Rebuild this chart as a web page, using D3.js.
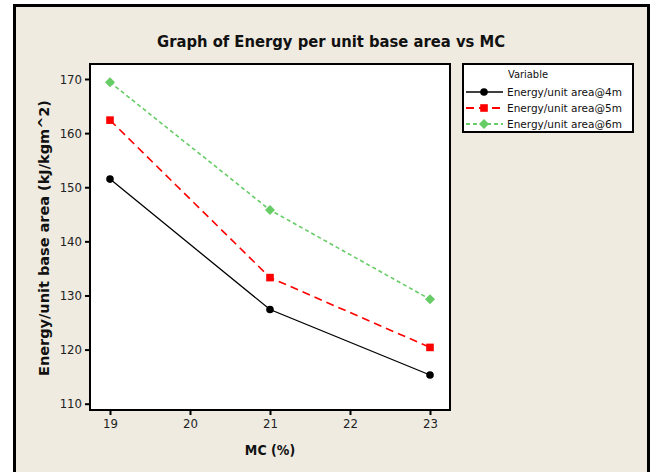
<!DOCTYPE html>
<html>
<head>
<meta charset="utf-8">
<script src="https://cdn.jsdelivr.net/npm/d3@7"></script>
<style>
  html, body { margin: 0; padding: 0; background: #ffffff; }
  svg { display: block; }
  text { font-family: "DejaVu Sans Condensed", "DejaVu Sans", Verdana, sans-serif; }
</style>
</head>
<body>
<svg id="chart" width="652" height="472"></svg>
<script>
// Moisture content (%) on the x axis
const mc = [19, 21, 23];
// Energy per unit base area (kJ/kgm^2) at each pile height
const energy4m = [151.5, 127.4, 115.3];
const energy5m = [162.4, 133.3, 120.4];
const energy6m = [169.4, 145.8, 129.3];
const seriesNames = ["Energy/unit area@4m", "Energy/unit area@5m", "Energy/unit area@6m"];
const xTicks = [19, 20, 21, 22, 23];
const yTicks = [110, 120, 130, 140, 150, 160, 170];

const series = [
  { name: seriesNames[0], values: energy4m, color: "#000000", dash: null, width: 1.3, marker: "circle" },
  { name: seriesNames[1], values: energy5m, color: "#ff0000", dash: "8,5", width: 1.6, marker: "square" },
  { name: seriesNames[2], values: energy6m, color: "#66cc66", dash: "4,3", width: 1.6, marker: "diamond" }
];

const svg = d3.select("#chart");

// Page background and outer frame
svg.append("rect").attr("x", 0).attr("y", 0).attr("width", 652).attr("height", 472).attr("fill", "#ffffff");
svg.append("rect").attr("x", 14.5).attr("y", 5.5).attr("width", 634).attr("height", 480)
  .attr("fill", "#efebe1").attr("stroke", "#000").attr("stroke-width", 3);

// Plot area
const plot = { left: 90, top: 64, right: 450, bottom: 410 };
const x = d3.scaleLinear().domain([18.75, 23.25]).range([plot.left, plot.right]);
const y = d3.scaleLinear().domain([170, 110]).range([79, 403.7]);

svg.append("rect")
  .attr("x", plot.left).attr("y", plot.top)
  .attr("width", plot.right - plot.left).attr("height", plot.bottom - plot.top)
  .attr("fill", "#ffffff").attr("stroke", "#000").attr("stroke-width", 2);

// Axes
const yAxis = d3.axisLeft(y).tickValues(yTicks).tickSize(4).tickPadding(3).tickFormat(d3.format("d"));
const gy = svg.append("g").attr("transform", `translate(${plot.left - 1},0)`).call(yAxis);
gy.select(".domain").remove();
gy.selectAll("line").attr("stroke", "#000").attr("stroke-width", 2);
gy.selectAll("text").attr("font-size", 13).attr("fill", "#222");

const xAxis = d3.axisBottom(x).tickValues(xTicks).tickSize(4).tickPadding(4).tickFormat(d3.format("d"));
const gx = svg.append("g").attr("transform", `translate(0,${plot.bottom + 1})`).call(xAxis);
gx.select(".domain").remove();
gx.selectAll("line").attr("stroke", "#000").attr("stroke-width", 2);
gx.selectAll("text").attr("font-size", 13).attr("fill", "#222");

// Titles
svg.append("text").attr("x", 331).attr("y", 47).attr("text-anchor", "middle")
  .attr("font-size", 16).attr("font-weight", "bold").attr("fill", "#111")
  .attr("textLength", 348).attr("lengthAdjust", "spacingAndGlyphs")
  .text("Graph of Energy per unit base area vs MC");

svg.append("text").attr("x", 270).attr("y", 455).attr("text-anchor", "middle")
  .attr("font-size", 14).attr("font-weight", "bold").attr("fill", "#111")
  .text("MC (%)");

svg.append("text").attr("transform", "translate(49,238) rotate(-90)").attr("text-anchor", "middle")
  .attr("font-size", 14).attr("font-weight", "bold").attr("fill", "#111")
  .attr("textLength", 276).attr("lengthAdjust", "spacingAndGlyphs")
  .text("Energy/unit base area (kJ/kgm^2)");

// Marker shapes
function drawMarker(g, kind, cx, cy, color) {
  if (kind === "circle") {
    g.append("circle").attr("cx", cx).attr("cy", cy).attr("r", 3.8).attr("fill", color);
  } else if (kind === "square") {
    g.append("rect").attr("x", cx - 3.8).attr("y", cy - 3.8).attr("width", 7.6).attr("height", 7.6).attr("fill", color);
  } else {
    g.append("path").attr("d", `M${cx},${cy - 5}L${cx + 5},${cy}L${cx},${cy + 5}L${cx - 5},${cy}Z`).attr("fill", color);
  }
}

// Series lines and markers
const line = d3.line().x((d, i) => x(mc[i])).y(d => y(d));
series.forEach(s => {
  const g = svg.append("g");
  g.append("path").datum(s.values).attr("d", line)
    .attr("fill", "none").attr("stroke", s.color).attr("stroke-width", s.width)
    .attr("stroke-dasharray", s.dash);
  s.values.forEach((v, i) => drawMarker(g, s.marker, x(mc[i]), y(v), s.color));
});

// Legend
const lg = svg.append("g");
lg.append("rect").attr("x", 463).attr("y", 64).attr("width", 170).attr("height", 68)
  .attr("fill", "#ffffff").attr("stroke", "#000").attr("stroke-width", 2);
lg.append("text").attr("x", 528).attr("y", 78).attr("text-anchor", "middle")
  .attr("font-size", 11).attr("fill", "#111").text("Variable");
series.forEach((s, i) => {
  const yy = 92 + i * 16;
  lg.append("line").attr("x1", 466).attr("x2", 503).attr("y1", yy).attr("y2", yy)
    .attr("stroke", s.color).attr("stroke-width", s.width + 0.3).attr("stroke-dasharray", s.dash);
  drawMarker(lg, s.marker, 484, yy, s.color);
  lg.append("text").attr("x", 507).attr("y", yy + 3.5).attr("font-size", 11).attr("fill", "#111")
    .attr("textLength", 115).attr("lengthAdjust", "spacingAndGlyphs").text(s.name);
});
</script>
</body>
</html>
